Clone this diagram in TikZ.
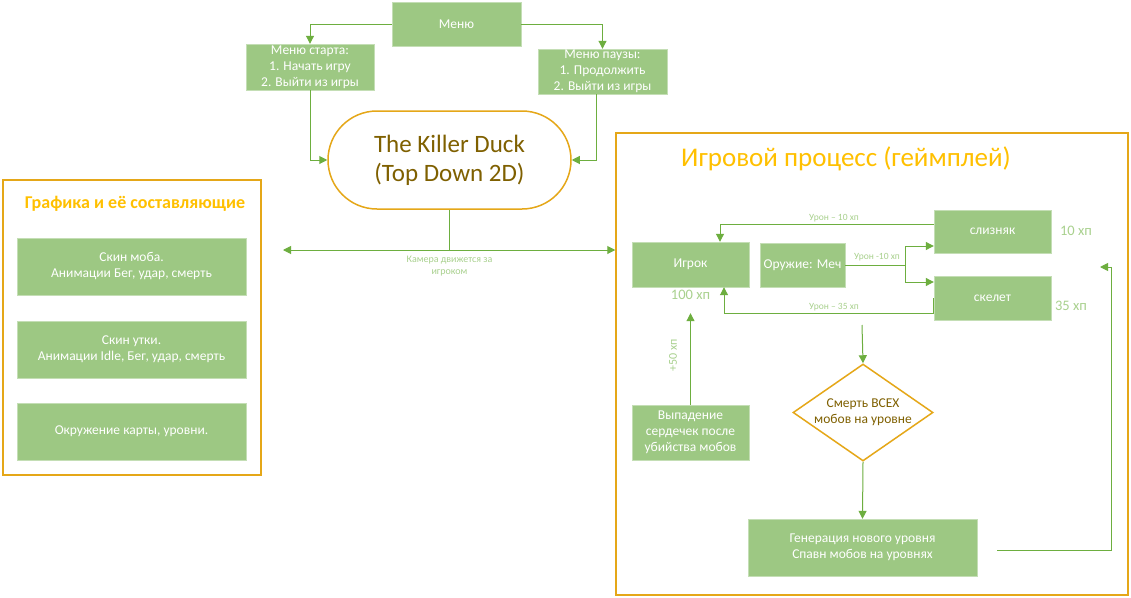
\documentclass[tikz,border=0pt]{standalone}
\usepackage{fontspec}
\setmainfont{Carlito}
\usetikzlibrary{shapes.geometric,arrows.meta}
\definecolor{boxgreen}{HTML}{9DC883}
\definecolor{linegreen}{HTML}{6DAE3F}
\definecolor{lightgreen}{HTML}{A9D18E}
\definecolor{frameorange}{HTML}{E5A718}
\definecolor{titleorange}{HTML}{FFC000}
\definecolor{darktext}{HTML}{7F6000}

\begin{document}
\begin{tikzpicture}[
    x=1pt, y=-1pt,
    box/.style={rectangle, fill=boxgreen, draw=boxgreen!60!white, text=white, align=center,
      inner sep=0pt, font=\fontsize{13.5}{16}\selectfont},
    frame/.style={rectangle, draw=frameorange, line width=1.5pt, inner sep=0pt},
    tag/.style={text=lightgreen, font=\fontsize{9.5}{12}\selectfont, align=center, inner sep=1pt},
    hp/.style={text=lightgreen, font=\fontsize{14.5}{16}\selectfont, inner sep=0pt},
    line/.style={draw=linegreen, line width=1pt},
    link/.style={line, -{Triangle[length=8pt,width=8pt]}}
  ]
  \useasboundingbox[fill=white] (0,0) rectangle (1131,597);

  % menus
  \node[box, minimum width=129pt, minimum height=44pt] (menu) at (456.5,24) {Меню};
  \node[box, minimum width=128pt, minimum height=46pt] (start) at (310,67)
    {Меню старта:\\1. Начать игру\\2. Выйти из игры};
  \node[box, minimum width=129pt, minimum height=45pt] (pause) at (602.5,71.5)
    {Меню паузы:\\1. Продолжить\\2. Выйти из игры};
  \node[rectangle, rounded corners=49pt, draw=frameorange, line width=1.5pt, fill=white,
    minimum width=243pt, minimum height=98pt, align=center, text=darktext,
    font=\fontsize{25}{29}\selectfont] (duck) at (449.5,160)
    {The Killer Duck\\(Top Down 2D)};

  \draw[link] (menu.west) -| (start.north);
  \draw[link] (menu.east) -| (pause.north);
  \draw[link] (start.south) |- (duck.west);
  \draw[link] ([xshift=-6pt]pause.south) |- (duck.east);

  % graphics
  \node[frame, minimum width=258pt, minimum height=295pt] (gfx) at (132,327.5) {};
  \node[text=titleorange, font=\fontsize{18}{21}\selectfont\bfseries] (gfxtitle) at (135,204)
    {Графика и её составляющие};
  \node[box, minimum width=229pt, minimum height=57pt] (mob) at (131.5,266.5)
    {Скин моба.\\Анимации Бег, удар, смерть};
  \node[box, minimum width=229pt, minimum height=57pt] (duckskin) at (131.5,349.5)
    {Скин утки.\\Анимации Idle, Бег, удар, смерть};
  \node[box, minimum width=229pt, minimum height=57pt] (world) at (131.5,431.5)
    {Окружение карты, уровни.};

  % gameplay
  \node[frame, minimum width=512pt, minimum height=462pt] (game) at (872,364) {};
  \node[text=titleorange, font=\fontsize{27}{32}\selectfont] (gametitle) at (846,159)
    {Игровой процесс (геймплей)};

  \coordinate (cam) at (449.5,250);
  \coordinate (camleft) at (283,250);
  \draw[line] (duck.south) -- (cam);
  \draw[line, {Triangle[length=8pt,width=8pt]}-{Triangle[length=8pt,width=8pt]}]
    (camleft) -- (cam -| game.west);
  \node[tag, font=\fontsize{10}{12}\selectfont] (camtag) at (449.5,266) {Камера движется за\\игроком};

  \node[box, minimum width=117pt, minimum height=45pt] (player) at (690.5,264.5) {Игрок};
  \node[hp] (playerhp) at (690.5,295) {100 хп};
  \node[box, minimum width=85pt, minimum height=44pt] (sword) at (802.5,265) {Оружие: Меч};
  \node[box, minimum width=117pt, minimum height=43pt] (slime) at (992.5,231.5) {слизняк};
  \node[hp] (slimehp) at (1076,231) {10 хп};
  \node[box, minimum width=117pt, minimum height=44pt] (skel) at (992.5,298) {скелет};
  \node[hp] (skelhp) at (1071,306) {35 хп};

  \draw[link] ([yshift=7pt]slime.west) -| ([xshift=29.5pt]player.north);
  \node[tag] (slimetag) at (834,218) {Урон – 10 хп};

  \coordinate (split) at (905,265);
  \draw[line] (sword.east) -- (split);
  \draw[link] (split) |- ([yshift=-14.5pt]slime.west);
  \draw[link] (split) |- ([yshift=16pt]skel.west);
  \node[tag] (swordtag) at (877,257) {Урон -10 хп};

  \draw[link] (skel.west) -- ++(0,15) -| ([xshift=33.5pt]player.south);
  \node[tag] (skeltag) at (834,307) {Урон – 35 хп};

  \node[diamond, draw=frameorange, line width=1.5pt, fill=white, aspect=1.44,
    minimum width=140pt, minimum height=97pt, inner sep=0pt, align=center, text=darktext,
    font=\fontsize{13.5}{16}\selectfont] (death) at (863,412.5) {Смерть ВСЕХ\\мобов на уровне};
  \node[box, minimum width=229pt, minimum height=57pt] (gen) at (862.5,547.5)
    {Генерация нового уровня\\Спавн мобов на уровнях};

  \coordinate (check) at (862,325);
  \draw[link] (check) -- (death.north);
  \draw[link] (death.south) -- (gen.north);

  \coordinate (retstart) at (997,550);
  \coordinate (retend) at (1100,267);
  \draw[link] (retstart) -| ([xshift=11pt]retend) -- (retend);

  \node[box, minimum width=117pt, minimum height=55pt] (drop) at (690.5,432.5)
    {Выпадение\\сердечек после\\убийства мобов};
  \draw[link] (drop.north) -- ([yshift=-26pt]player.south);
  \node[hp, rotate=90, font=\fontsize{12}{14}\selectfont] (droptag) at (673,355) {+50 хп};
\end{tikzpicture}
\end{document}
